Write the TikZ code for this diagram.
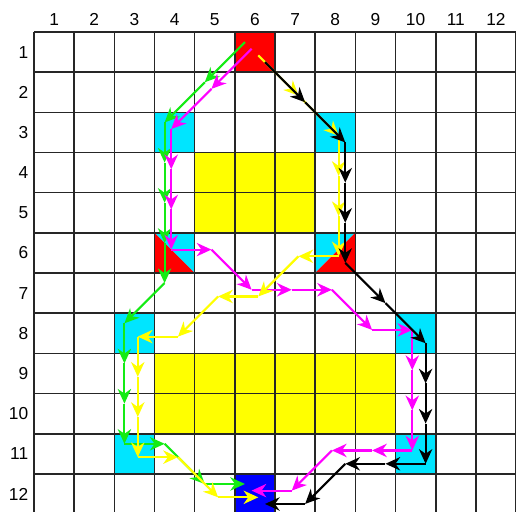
\documentclass[tikz,border=0pt]{standalone}
\usepackage{fontspec}
\setmainfont{Liberation Sans}
\usetikzlibrary{arrows.meta}
\definecolor{cellcyan}{RGB}{0,229,255}
\definecolor{cellyellow}{RGB}{255,255,0}
\definecolor{cellred}{RGB}{255,0,0}
\definecolor{cellblue}{RGB}{0,0,255}
\definecolor{pgreen}{RGB}{20,235,20}
\definecolor{pmagenta}{RGB}{255,0,255}
\definecolor{pyellow}{RGB}{255,255,0}
\definecolor{pblack}{RGB}{0,0,0}
\def\X{34}
\def\Y{32}
\def\S{40.17}
\newcommand\cellfill[3]{\fill[#3] ({\X+(#2-1)*\S},{\Y+(#1-1)*\S}) rectangle ++(\S,\S);}
\newcommand\route[4]{%
  \foreach \r/\c [count=\i] in {#4}{%
    \coordinate (#1\i) at ({\X+(\c-0.5)*\S+(#3)},{\Y+(\r-0.5)*\S+(#3)});
    \ifnum\i>1
      \pgfmathtruncatemacro\prev{\i-1}%
      \draw[routeline,draw=#2] (#1\prev) -- (#1\i);
    \fi
  }%
}
\begin{document}
\begin{tikzpicture}[x=0.75pt,y=-0.75pt,
  gridline/.style={line width=1.2pt,draw=black!85},
  lab/.style={font=\fontsize{13pt}{15pt}\selectfont,inner sep=0pt},
  routeline/.style={line width=1.6pt,line join=round,-{Stealth[length=11pt,width=10pt,inset=3.5pt]}}]
\useasboundingbox (0,0) rectangle (516,511);
\clip (0,0) rectangle (516,511);
\fill[white] (0,0) rectangle (516,511);
% coloured cells
\cellfill{1}{6}{cellred}
\cellfill{3}{4}{cellcyan}
\cellfill{3}{8}{cellcyan}
\fill[cellyellow] ({\X+4*\S},{\Y+3*\S}) rectangle ({\X+7*\S},{\Y+5*\S});
% split cell (6,4)
\fill[cellcyan] ({\X+3*\S},{\Y+5*\S}) -- ({\X+4*\S},{\Y+5*\S}) -- ({\X+4*\S},{\Y+6*\S}) -- cycle;
\fill[cellred] ({\X+3*\S},{\Y+5*\S}) -- ({\X+3*\S},{\Y+6*\S}) -- ({\X+4*\S},{\Y+6*\S}) -- cycle;
% split cell (6,8)
\fill[cellcyan] ({\X+7*\S},{\Y+5*\S}) -- ({\X+8*\S},{\Y+5*\S}) -- ({\X+7*\S},{\Y+6*\S}) -- cycle;
\fill[cellred] ({\X+8*\S},{\Y+5*\S}) -- ({\X+8*\S},{\Y+6*\S}) -- ({\X+7*\S},{\Y+6*\S}) -- cycle;
\cellfill{8}{3}{cellcyan}
\cellfill{8}{10}{cellcyan}
\fill[cellyellow] ({\X+3*\S},{\Y+8*\S}) rectangle ({\X+9*\S},{\Y+10*\S});
\cellfill{11}{3}{cellcyan}
\cellfill{11}{10}{cellcyan}
\cellfill{12}{6}{cellblue}
% grid
\foreach \k in {0,...,12}{%
  \draw[gridline] ({\X+\k*\S},\Y) -- ({\X+\k*\S},{\Y+12*\S});
  \draw[gridline] (\X,{\Y+\k*\S}) -- ({\X+12*\S},{\Y+\k*\S});
}
% labels
\foreach \k in {1,...,12}{%
  \node[lab] (col\k) at ({\X+(\k-0.5)*\S},19.5) {\k};
  \node[lab,anchor=east] (row\k) at (28.5,{\Y+(\k-0.5)*\S}) {\k};
}
% routes
\route{g}{pgreen}{-10}{1/6,2/5,3/4,4/4,5/4,6/4,7/4,8/3,9/3,10/3,11/3,11/4,12/5,12/6}
\route{m}{pmagenta}{-3.35}{1/6,2/5,3/4,4/4,5/4,6/4,6/5,7/6,7/7,7/8,8/9,8/10,9/10,10/10,11/10,11/9,11/8,12/7,12/6}
\route{y}{pyellow}{3.35}{1/6,2/7,3/8,4/8,5/8,6/8,6/7,7/6,7/5,8/4,8/3,9/3,10/3,11/3,11/4,12/5,12/6}
\route{b}{pblack}{10}{1/6,2/7,3/8,4/8,5/8,6/8,7/9,8/10,9/10,10/10,11/10,11/9,11/8,12/7,12/6}
\end{tikzpicture}
\end{document}
